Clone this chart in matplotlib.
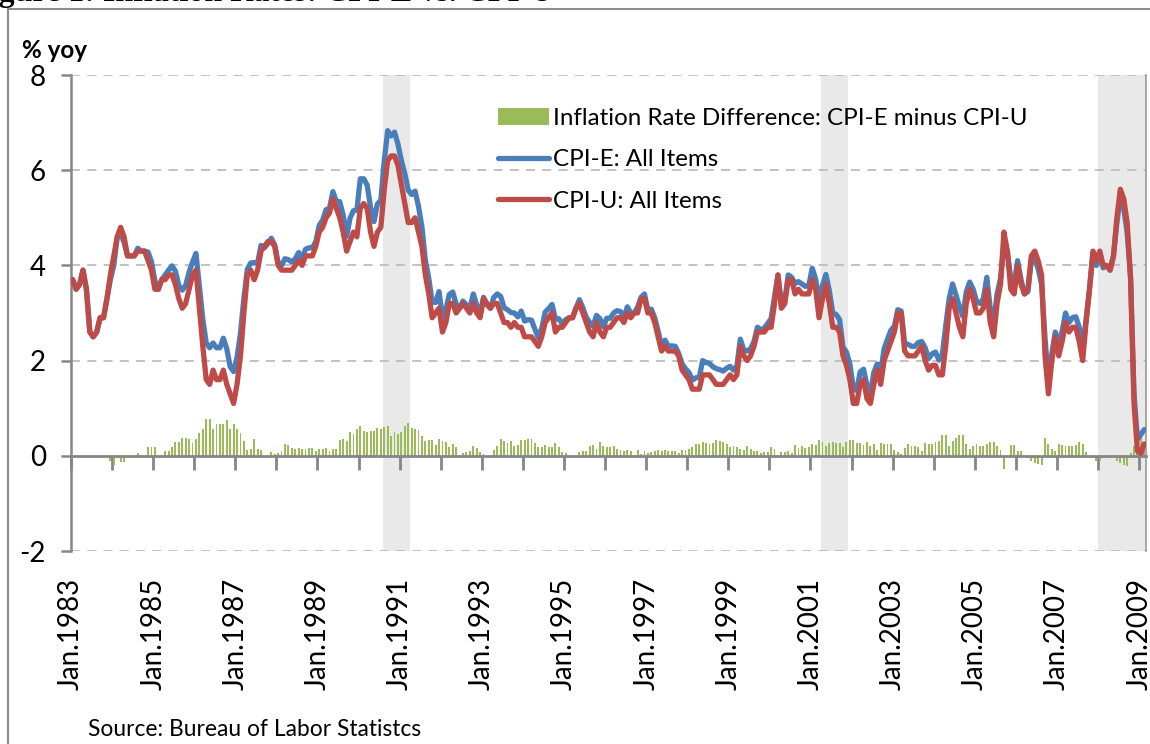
# CPI-E vs CPI-U inflation, year-over-year, monthly Jan 1983 - Feb 2009
import numpy as np
import matplotlib
matplotlib.use("Agg")
import matplotlib.pyplot as plt
from matplotlib.lines import Line2D

plt.rcParams['font.family'] = ['Lato', 'DejaVu Sans']
plt.rcParams['axes.unicode_minus'] = False

# CPI-U: All Items, % yoy (one row per year, Jan..Dec)
cpi_u = [
    3.7, 3.5, 3.6, 3.9, 3.5, 2.6, 2.5, 2.6, 2.9, 2.9, 3.3, 3.8,   # 1983
    4.2, 4.6, 4.8, 4.6, 4.2, 4.2, 4.2, 4.3, 4.3, 4.3, 4.1, 3.9,   # 1984
    3.5, 3.5, 3.7, 3.7, 3.8, 3.8, 3.6, 3.3, 3.1, 3.2, 3.5, 3.8,   # 1985
    3.9, 3.1, 2.3, 1.6, 1.5, 1.8, 1.6, 1.6, 1.8, 1.5, 1.3, 1.1,   # 1986
    1.5, 2.1, 3.0, 3.8, 3.9, 3.7, 3.9, 4.3, 4.4, 4.5, 4.5, 4.4,   # 1987
    4.0, 3.9, 3.9, 3.9, 3.9, 4.0, 4.1, 4.0, 4.2, 4.2, 4.2, 4.4,   # 1988
    4.7, 4.8, 5.0, 5.1, 5.4, 5.2, 5.0, 4.7, 4.3, 4.5, 4.7, 4.6,   # 1989
    5.2, 5.3, 5.2, 4.7, 4.4, 4.7, 4.8, 5.6, 6.2, 6.3, 6.3, 6.1,   # 1990
    5.7, 5.3, 4.9, 4.9, 5.0, 4.7, 4.4, 3.8, 3.4, 2.9, 3.0, 3.1,   # 1991
    2.6, 2.8, 3.2, 3.2, 3.0, 3.1, 3.2, 3.1, 3.0, 3.2, 3.0, 2.9,   # 1992
    3.3, 3.2, 3.1, 3.2, 3.2, 3.0, 2.8, 2.8, 2.7, 2.8, 2.7, 2.7,   # 1993
    2.5, 2.5, 2.5, 2.4, 2.3, 2.5, 2.8, 2.9, 3.0, 2.6, 2.7, 2.7,   # 1994
    2.8, 2.9, 2.9, 3.1, 3.2, 3.0, 2.8, 2.6, 2.5, 2.8, 2.6, 2.5,   # 1995
    2.7, 2.7, 2.8, 2.9, 2.9, 2.8, 3.0, 2.9, 3.0, 3.0, 3.3, 3.3,   # 1996
    3.0, 3.0, 2.8, 2.5, 2.2, 2.3, 2.2, 2.2, 2.2, 2.1, 1.8, 1.7,   # 1997
    1.6, 1.4, 1.4, 1.4, 1.7, 1.7, 1.7, 1.6, 1.5, 1.5, 1.5, 1.6,   # 1998
    1.7, 1.6, 1.7, 2.3, 2.1, 2.0, 2.1, 2.3, 2.6, 2.6, 2.6, 2.7,   # 1999
    2.7, 3.2, 3.8, 3.1, 3.2, 3.7, 3.7, 3.4, 3.5, 3.4, 3.4, 3.4,   # 2000
    3.7, 3.5, 2.9, 3.3, 3.6, 3.2, 2.7, 2.7, 2.6, 2.1, 1.9, 1.6,   # 2001
    1.1, 1.1, 1.5, 1.6, 1.2, 1.1, 1.5, 1.8, 1.5, 2.0, 2.2, 2.4,   # 2002
    2.6, 3.0, 3.0, 2.2, 2.1, 2.1, 2.1, 2.2, 2.3, 2.0, 1.8, 1.9,   # 2003
    1.9, 1.7, 1.7, 2.3, 3.1, 3.3, 3.0, 2.7, 2.5, 3.2, 3.5, 3.3,   # 2004
    3.0, 3.0, 3.1, 3.5, 2.8, 2.5, 3.2, 3.6, 4.7, 4.3, 3.5, 3.4,   # 2005
    4.0, 3.6, 3.4, 3.5, 4.2, 4.3, 4.1, 3.8, 2.1, 1.3, 2.0, 2.5,   # 2006
    2.1, 2.4, 2.8, 2.6, 2.7, 2.7, 2.4, 2.0, 2.8, 3.5, 4.3, 4.1,   # 2007
    4.3, 4.0, 4.0, 3.9, 4.2, 5.0, 5.6, 5.4, 4.9, 3.7, 1.1, 0.1,   # 2008
    0.05, 0.25,                                                   # 2009
]

# Inflation rate difference: CPI-E minus CPI-U
diff = [
    0.0, 0.0, 0.0, 0.0, 0.0, 0.0, 0.0, 0.0, 0.0, 0.0, 0.0, -0.1,
    -0.2, 0.0, -0.12, -0.12, 0.0, 0.0, 0.0, 0.06, 0.0, 0.0, 0.18, 0.18,
    0.18, 0.0, 0.0, 0.1, 0.1, 0.19, 0.28, 0.28, 0.38, 0.38, 0.36, 0.27,
    0.35, 0.47, 0.57, 0.77, 0.77, 0.57, 0.67, 0.67, 0.67, 0.75, 0.57, 0.67,
    0.57, 0.47, 0.31, 0.12, 0.15, 0.36, 0.15, 0.12, -0.03, -0.04, 0.07, 0.03,
    0.06, 0.1, 0.24, 0.22, 0.17, 0.14, 0.17, 0.15, 0.14, 0.17, 0.17, 0.1,
    0.14, 0.15, 0.17, 0.1, 0.15, 0.14, 0.34, 0.36, 0.31, 0.49, 0.45, 0.56,
    0.62, 0.52, 0.49, 0.52, 0.52, 0.59, 0.57, 0.6, 0.63, 0.42, 0.5, 0.45,
    0.5, 0.63, 0.68, 0.59, 0.56, 0.54, 0.41, 0.31, 0.33, 0.33, 0.22, 0.35,
    0.31, 0.28, 0.19, 0.24, 0.19, 0.0, 0.05, 0.07, 0.1, 0.2, 0.17, 0.07,
    0.03, -0.03, 0.0, 0.13, 0.2, 0.35, 0.31, 0.27, 0.31, 0.2, 0.22, 0.34,
    0.33, 0.36, 0.35, 0.26, 0.18, 0.18, 0.22, 0.19, 0.18, 0.27, 0.18, 0.07,
    0.06, 0.0, 0.0, 0.0, 0.08, 0.11, 0.11, 0.2, 0.22, 0.15, 0.28, 0.21,
    0.19, 0.19, 0.2, 0.15, 0.13, 0.1, 0.13, 0.1, 0.0, 0.12, 0.03, 0.1,
    0.06, 0.08, 0.1, 0.12, 0.1, 0.13, 0.1, 0.11, 0.1, 0.05, 0.13, 0.13,
    0.15, 0.19, 0.24, 0.24, 0.3, 0.26, 0.24, 0.27, 0.33, 0.31, 0.28, 0.24,
    0.18, 0.2, 0.19, 0.15, 0.13, 0.2, 0.15, 0.1, 0.1, 0.05, 0.08, 0.08,
    0.18, 0.15, 0.0, 0.07, 0.08, 0.1, 0.05, 0.22, 0.16, 0.21, 0.16, 0.18,
    0.24, 0.22, 0.33, 0.28, 0.21, 0.27, 0.3, 0.27, 0.26, 0.18, 0.28, 0.33,
    0.33, 0.27, 0.26, 0.22, 0.28, 0.21, 0.25, 0.13, 0.26, 0.25, 0.25, 0.24,
    0.12, 0.07, 0.04, 0.17, 0.24, 0.2, 0.2, 0.18, 0.1, 0.27, 0.24, 0.24,
    0.28, 0.31, 0.43, 0.43, 0.2, 0.31, 0.38, 0.43, 0.43, 0.24, 0.15, 0.2,
    0.25, 0.2, 0.2, 0.25, 0.3, 0.3, 0.2, 0.12, -0.28, 0.0, 0.22, 0.22,
    0.1, 0.1, 0.0, -0.05, -0.1, -0.15, -0.17, -0.2, 0.38, 0.25, 0.15, 0.1,
    0.25, 0.22, 0.2, 0.2, 0.2, 0.22, 0.3, 0.25, 0.07, 0.0, -0.05, -0.1,
    -0.1, -0.05, 0.0, 0.0, 0.0, -0.1, -0.15, -0.2, -0.22, 0.05, 0.2, 0.25,
    0.4, 0.3,
]

# recession bands (start, end) in decimal years
recessions = [(1990 + 7/12, 1991 + 3/12), (2001 + 3/12, 2001 + 11/12), (2008.0, 2009 + 2/12)]

cpi_u = np.array(cpi_u)
diff = np.array(diff)
cpi_e = cpi_u + diff
x = 1983 + (np.arange(len(cpi_u)) + 0.5) / 12

fs_tick = 20
fs_leg = 17.4
grey = '#868686'

fig = plt.figure(figsize=(11.5, 7.44), dpi=100)
ax = fig.add_axes([71/1150, 1 - 551/744, 1075/1150, 476/744])

for a, b in recessions:
    ax.axvspan(a, b, color='#E9E9E9', lw=0, zorder=0)

for yv in [-2, 2, 4, 6, 8]:
    ax.axhline(yv, color='#BDBDBD', lw=1.3, ls=(0, (5, 4)), zorder=1)

bars = ax.bar(x, diff, width=0.55/12, color='#9BBB59', lw=0, zorder=2)
line_e, = ax.plot(x, cpi_e, color='#4A7EBB', lw=3.8, solid_capstyle='round', zorder=3)
line_u, = ax.plot(x, cpi_u, color='#BE4B48', lw=3.8, solid_capstyle='round', zorder=4)

ax.set_xlim(1983, 1983 + len(cpi_u) / 12)
ax.set_ylim(-2, 8)

# spines
ax.spines['top'].set_visible(False)
ax.spines['left'].set_color(grey)
ax.spines['left'].set_linewidth(1.8)
ax.spines['right'].set_color('#9A9A9A')
ax.spines['right'].set_linewidth(1.2)
ax.spines['bottom'].set_position(('data', 0))
ax.spines['bottom'].set_color(grey)
ax.spines['bottom'].set_linewidth(2)

ax.set_yticks([-2, 0, 2, 4, 6, 8])
ax.tick_params(axis='y', direction='out', length=7, width=1.8, color=grey,
               labelsize=fs_tick, pad=11)
years = list(range(1983, 2010))
ax.set_xticks(years)
ax.tick_params(axis='x', direction='out', length=10, width=2, color=grey,
               labelbottom=False)

# date labels below the plot
sec = ax.secondary_xaxis('bottom')
label_years = list(range(1983, 2010, 2))
sec.set_xticks(label_years)
sec.set_xticklabels(['Jan.%d' % y for y in label_years], rotation=90, fontsize=fs_tick)
sec.tick_params(length=0, pad=19.5)
sec.spines['bottom'].set_visible(False)

ax.legend([bars, line_e, line_u],
          ['Inflation Rate Difference: CPI-E minus CPI-U', 'CPI-E: All Items', 'CPI-U: All Items'],
          loc='upper left', bbox_to_anchor=(476/1150, 1 - 86/744), bbox_transform=fig.transFigure,
          frameon=False, fontsize=fs_leg, handlelength=2.1, handletextpad=0.17,
          labelspacing=0.85, handleheight=0.7)

fig.text(22/1150, 1 - 50/744, '% yoy', fontsize=17.5, fontweight='bold', va='center', ha='left')
fig.text(88/1150, 1 - 730/744, 'Source: Bureau of Labor Statistcs', fontsize=16.4, va='center', ha='left')

# caption above the chart frame, mostly outside the picture as in the original
fig.text(-30/1150, 1 - 1/744, 'Figure 1: Inflation Rates: CPI-E vs. CPI-U', fontsize=23,
         fontweight='bold', family='Liberation Serif', va='baseline', ha='left')

# chart frame
fig.add_artist(Line2D([8/1150, 8/1150], [0, 1 - 9/744], transform=fig.transFigure, color='#8C8C8C', lw=1.5))
fig.add_artist(Line2D([8/1150, 1], [1 - 9/744, 1 - 9/744], transform=fig.transFigure, color='#8C8C8C', lw=1.5))

fig.savefig('out.png', dpi=100)
